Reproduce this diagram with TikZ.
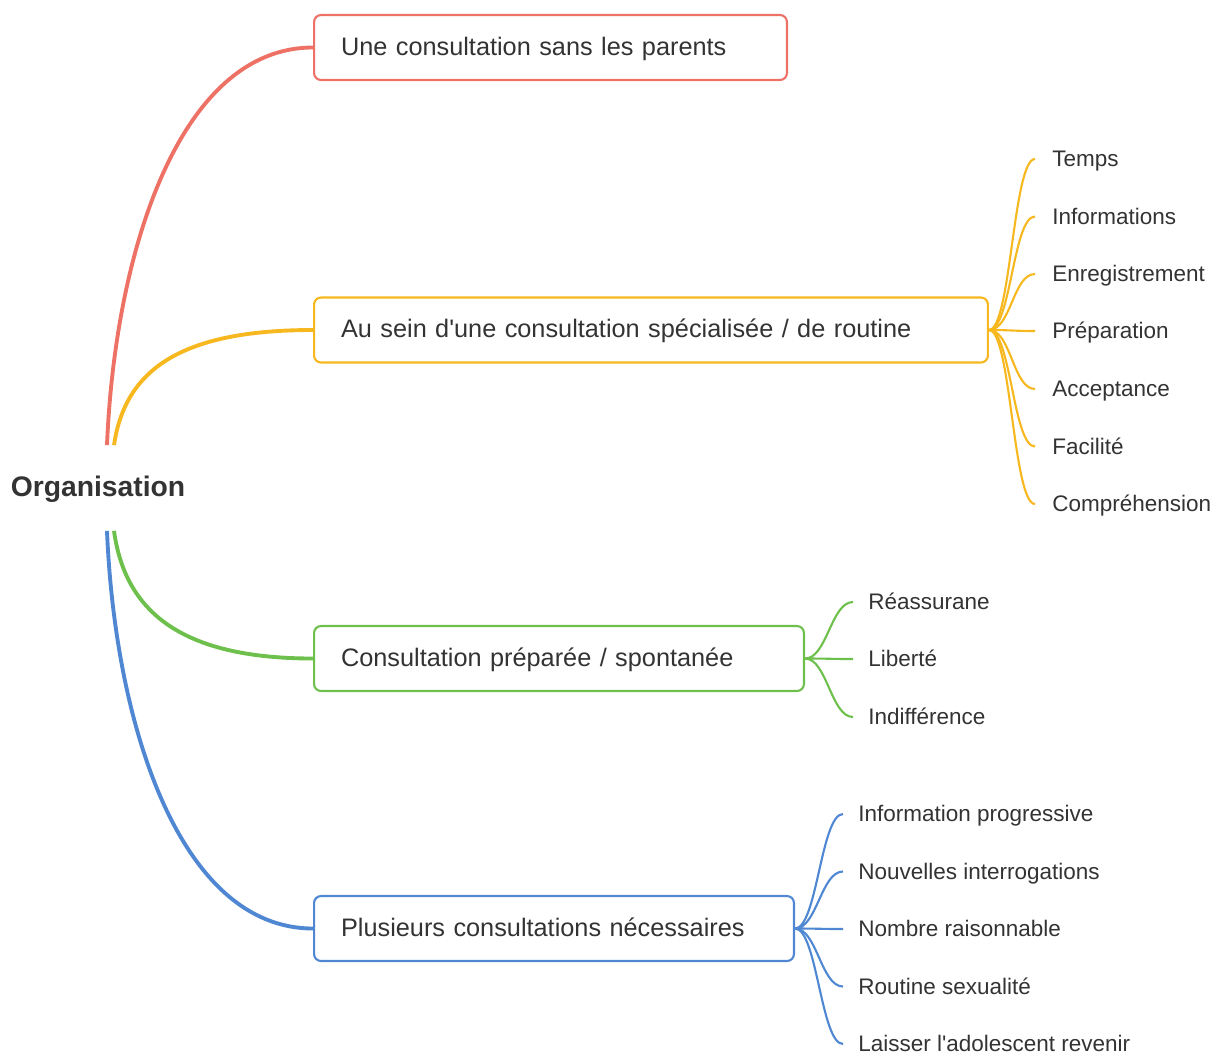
\documentclass[tikz,border=0pt]{standalone}
\usepackage{fontspec}
\setmainfont{Liberation Sans}
\usepackage{tikz}
\usetikzlibrary{calc}
\definecolor{cred}{HTML}{EE7165}
\definecolor{cyellow}{HTML}{F6B81E}
\definecolor{cgreen}{HTML}{6DC04C}
\definecolor{cblue}{HTML}{4F87D3}
\definecolor{ctext}{HTML}{333333}

\begin{document}
\begin{tikzpicture}
  [x=0.02cm,y=-0.02cm,
   topic/.style 2 args={draw=#1,line width=1.2pt,rounded corners=4pt,anchor=west,
     minimum height=1.3cm,inner xsep=0.54cm,inner ysep=0pt,text width=#2,align=left,
     text=ctext,font=\fontsize{14.4}{17}\selectfont,text height=0.88em,text depth=0pt},
   leaf/.style={anchor=west,inner xsep=#1,inner ysep=0pt,text=ctext,
     font=\fontsize{12.8}{15}\selectfont,text height=0.9em,text depth=0pt}]

  \useasboundingbox (0,0) rectangle (1216,1055);

  \node[style={text=ctext,font=\bfseries\fontsize{16.1}{19}\selectfont,minimum height=1.7cm,
    inner sep=0pt,text height=1.02em,text depth=0pt}] (n0) at (98,488) {Organisation};

  \node[topic={cred}{8.38cm}] (n1) at (313,47.5) {Une consultation sans les parents};
  \node[topic={cyellow}{12.40cm}] (n2) at (313,330) {Au sein d\textquotesingle une consultation spécialisée / de routine};
  \node[topic={cgreen}{8.72cm}] (n3) at (313,658.5) {Consultation préparée / spontanée};
  \node[topic={cblue}{8.52cm}] (n4) at (313,928.5) {Plusieurs consultations nécessaires};

  \node[leaf=0.34cm] (n5) at (1035,159) {Temps};
  \node[leaf=0.34cm] (n6) at (1035,216.5) {Informations};
  \node[leaf=0.34cm] (n7) at (1035,274) {Enregistrement};
  \node[leaf=0.34cm] (n8) at (1035,331) {Préparation};
  \node[leaf=0.34cm] (n9) at (1035,389) {Acceptance};
  \node[leaf=0.34cm] (n10) at (1035,446.5) {Facilité};
  \node[leaf=0.34cm] (n11) at (1035,504) {Compréhension};

  \node[leaf=0.3cm] (n12) at (853,602) {Réassurane};
  \node[leaf=0.3cm] (n13) at (853,659) {Liberté};
  \node[leaf=0.3cm] (n14) at (853,717) {Indifférence};

  \node[leaf=0.3cm] (n15) at (843,814) {Information progressive};
  \node[leaf=0.3cm] (n16) at (843,871.5) {Nouvelles interrogations};
  \node[leaf=0.3cm] (n17) at (843,929) {Nombre raisonnable};
  \node[leaf=0.3cm] (n18) at (843,986.5) {Routine sexualité};
  \node[leaf=0.3cm] (n19) at (843,1044) {Laisser l\textquotesingle adolescent revenir};

  % main branches
  \draw[cred,line width=2.2pt] ($(n0.north)+(9,0)$) .. controls +(8,-195) and +(-133,0) .. (n1.west);
  \draw[cyellow,line width=2.2pt] ($(n0.north)+(16,0)$) .. controls +(11,-75) and +(-133,0) .. (n2.west);
  \draw[cgreen,line width=2.2pt] ($(n0.south)+(16,0)$) .. controls +(11,80) and +(-133,0) .. (n3.west);
  \draw[cblue,line width=2.2pt] ($(n0.south)+(9,0)$) .. controls +(8,195) and +(-133,0) .. (n4.west);

  % sub branches
  \foreach \from/\to/\c in {n2/n5/cyellow,n2/n6/cyellow,n2/n7/cyellow,n2/n8/cyellow,n2/n9/cyellow,
      n2/n10/cyellow,n2/n11/cyellow,n3/n12/cgreen,n3/n13/cgreen,n3/n14/cgreen,
      n4/n15/cblue,n4/n16/cblue,n4/n17/cblue,n4/n18/cblue,n4/n19/cblue}
    \draw[\c,line width=1.2pt] (\from.east) .. controls +(22,0) and +(-22,0) .. (\to.west);
\end{tikzpicture}
\end{document}
